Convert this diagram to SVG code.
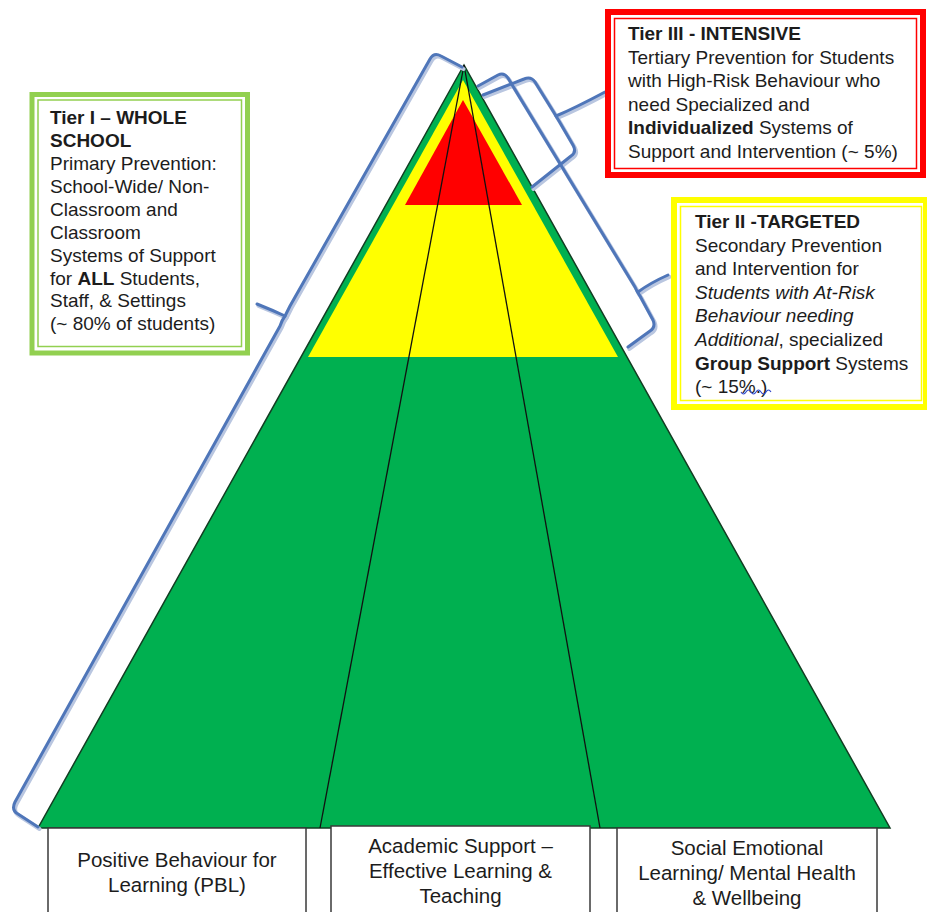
<svg xmlns="http://www.w3.org/2000/svg" width="927" height="912" viewBox="0 0 927 912">
<style>
.t{font-family:"Liberation Sans",Arial,sans-serif;font-size:19px;fill:#1c1c1c}
.b{font-weight:bold}
.i{font-style:italic}
.bt{font-family:"Liberation Sans",Arial,sans-serif;font-size:20.5px;fill:#1c1c1c;text-anchor:middle}
.brace{fill:none;stroke:#4f76b9;stroke-width:3;stroke-linecap:round;stroke-linejoin:round}
.shadow{fill:none;stroke:#b9c6e0;stroke-width:4;stroke-linecap:round;stroke-linejoin:round}
.cell{fill:#fff;stroke:#3a3a3a;stroke-width:1.5}
</style>
<rect width="927" height="912" fill="#fff"/>

<g id="pyramid">
  <polygon points="464,65 38,828 890,828" fill="#00b050" stroke="#123d22" stroke-width="1.5"/>
  <polygon points="463,80 308,357 618,357" fill="#ffff00"/>
  <polygon points="463,100 405,205 522,205" fill="#ff0000"/>
  <line x1="464" y1="65" x2="320" y2="828" stroke="#111" stroke-width="1.3"/>
  <line x1="464" y1="65" x2="600" y2="828" stroke="#111" stroke-width="1.3"/>
</g>

<g id="connectors">
  <g transform="translate(1.5,2)">
    <path class="shadow" d="M462,67 L441,56 Q434,52 430,59 L290,306 Q287,312 285,316 Q282,320 280,326 L15,802 Q11,810 18,814 L38,827"/>
    <path class="shadow" d="M285,316 Q272,310 257,304"/>
    <path class="shadow" d="M478,86 L498,75 Q504,72 508,78 L635,287 Q637,292 640,296 L653,320 Q656,327 650,331 L628,347"/>
    <path class="shadow" d="M638,292 Q650,283 668,275"/>
    <path class="shadow" d="M483,95 L524,79 Q531,76 535,82 L553,111 Q556,116 559,121 L573,145 Q577,152 571,156 L532,187"/>
    <path class="shadow" d="M556,116 Q575,108 605,92"/>
  </g>
  <path id="brace-tier1" class="brace" d="M462,67 L441,56 Q434,52 430,59 L290,306 Q287,312 285,316 Q282,320 280,326 L15,802 Q11,810 18,814 L38,827"/>
  <path class="brace" d="M285,316 Q272,310 257,304"/>
  <path id="brace-tier2" class="brace" d="M478,86 L498,75 Q504,72 508,78 L635,287 Q637,292 640,296 L653,320 Q656,327 650,331 L628,347"/>
  <path class="brace" d="M638,292 Q650,283 668,275"/>
  <path id="brace-tier3" class="brace" d="M483,95 L524,79 Q531,76 535,82 L553,111 Q556,116 559,121 L573,145 Q577,152 571,156 L532,187"/>
  <path class="brace" d="M556,116 Q575,108 605,92"/>
</g>

<g id="tier1">
  <rect x="32" y="94.5" width="215.5" height="258.5" fill="#fff" stroke="#92d050" stroke-width="5"/>
  <rect x="38" y="100" width="203.5" height="246.5" fill="none" stroke="#92d050" stroke-width="1.5"/>
  <text class="t">
    <tspan x="50" y="124" class="b">Tier I – WHOLE</tspan>
    <tspan x="50" y="147" class="b">SCHOOL</tspan>
    <tspan x="50" y="170">Primary Prevention:</tspan>
    <tspan x="50" y="193">School-Wide/ Non-</tspan>
    <tspan x="50" y="216">Classroom and</tspan>
    <tspan x="50" y="238.5">Classroom</tspan>
    <tspan x="50" y="261.5">Systems of Support</tspan>
    <tspan x="50" y="284.5">for <tspan class="b">ALL</tspan> Students,</tspan>
    <tspan x="50" y="307">Staff, &amp; Settings</tspan>
    <tspan x="50" y="330">(~ 80% of students)</tspan>
  </text>
</g>

<g id="tier3">
  <rect x="608" y="12" width="315" height="163" fill="#fff" stroke="#ff0000" stroke-width="6"/>
  <rect x="614.5" y="18.5" width="302" height="150" fill="none" stroke="#ff0000" stroke-width="1.5"/>
  <text class="t">
    <tspan x="628" y="40" class="b">Tier III - INTENSIVE</tspan>
    <tspan x="628" y="63.5">Tertiary Prevention for Students</tspan>
    <tspan x="628" y="87">with High-Risk Behaviour who</tspan>
    <tspan x="628" y="110.5">need Specialized and</tspan>
    <tspan x="628" y="134"><tspan class="b">Individualized</tspan> Systems of</tspan>
    <tspan x="628" y="157.5">Support and Intervention (~ 5%)</tspan>
  </text>
</g>

<g id="tier2">
  <rect x="674" y="200" width="252" height="207" fill="#fff" stroke="#ffff00" stroke-width="6"/>
  <rect x="680.5" y="206.5" width="241" height="194" fill="none" stroke="#ffff00" stroke-width="1.5"/>
  <text class="t">
    <tspan x="695" y="228" class="b">Tier II -TARGETED</tspan>
    <tspan x="695" y="251.5">Secondary Prevention</tspan>
    <tspan x="695" y="275">and Intervention for</tspan>
    <tspan x="695" y="298.5" class="i">Students with At-Risk</tspan>
    <tspan x="695" y="322" class="i">Behaviour needing</tspan>
    <tspan x="695" y="345.5"><tspan class="i">Additional</tspan>, specialized</tspan>
    <tspan x="695" y="369.5"><tspan class="b">Group Support</tspan> Systems</tspan>
    <tspan x="695" y="393">(~ 15%.)</tspan>
  </text>
  <path d="M741,392 q2.5,4 5,0 t5,0 t5,0 t5,0 t5,0 t5,0" fill="none" stroke="#2f46c8" stroke-width="1.1"/>
</g>

<g id="pbl">
  <rect class="cell" x="48" y="828" width="258" height="92"/>
  <text class="bt"><tspan x="177" y="867">Positive Behaviour for</tspan><tspan x="177" y="892">Learning (PBL)</tspan></text>
</g>
<g id="academic">
  <rect class="cell" x="331" y="826" width="259" height="94"/>
  <text class="bt"><tspan x="460.5" y="853">Academic Support –</tspan><tspan x="460.5" y="878">Effective Learning &amp;</tspan><tspan x="460.5" y="903">Teaching</tspan></text>
</g>
<g id="sel">
  <rect class="cell" x="617" y="828" width="260" height="92"/>
  <text class="bt"><tspan x="747" y="855">Social Emotional</tspan><tspan x="747" y="880">Learning/ Mental Health</tspan><tspan x="747" y="905">&amp; Wellbeing</tspan></text>
</g>
</svg>
